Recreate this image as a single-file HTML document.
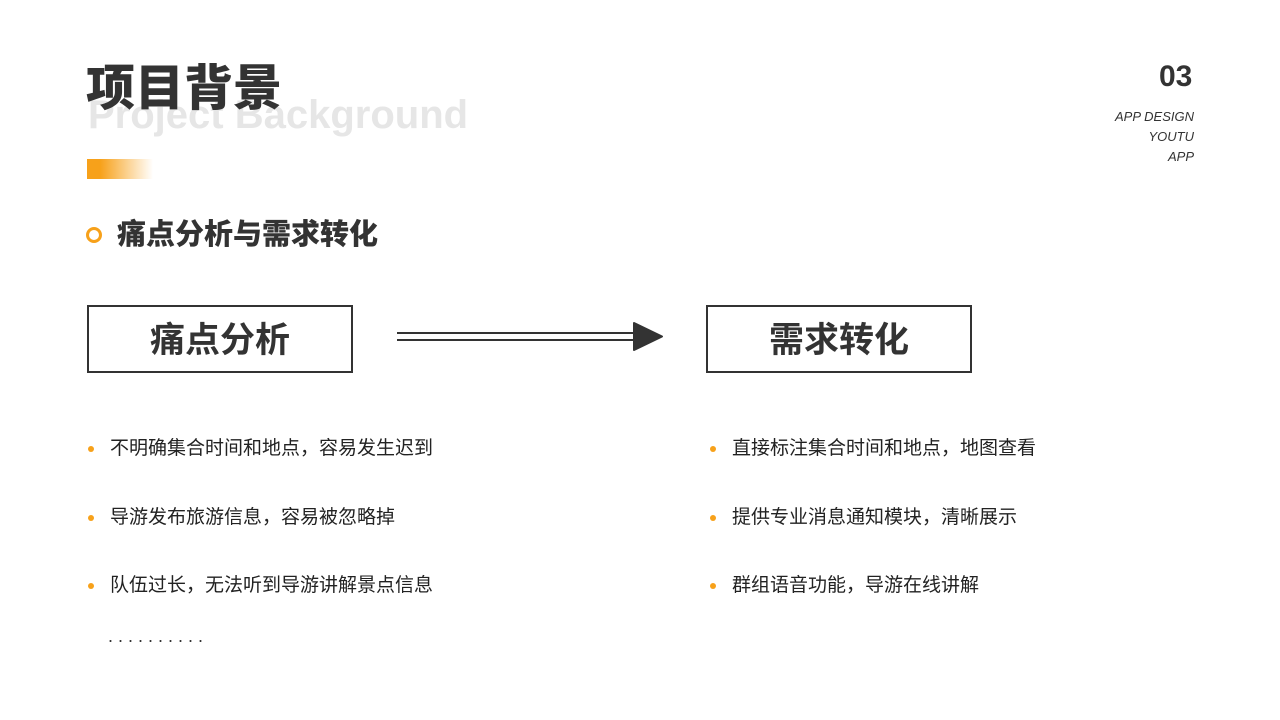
<!DOCTYPE html>
<html><head><meta charset="utf-8"><style>
body{margin:0;width:1280px;height:720px;background:#fff;position:relative;overflow:hidden;font-family:"Liberation Sans","Noto Sans CJK SC",sans-serif;color:#333}
.a{position:absolute;white-space:nowrap}
.box{position:absolute;border:2px solid #333;box-sizing:border-box;width:266px;height:68px;font-size:35px;font-weight:bold;text-align:center;line-height:68px;color:#333}
.li{position:absolute;font-size:19px;color:#222;white-space:nowrap;line-height:24px}
.li:before{content:"";position:absolute;left:-22px;top:9px;width:6px;height:6px;border-radius:50%;background:#f7a11a}
</style></head><body>
<div class="a" style="left:88px;top:87px;font-size:40px;font-weight:bold;color:#e6e6e6;line-height:56px">Project Background</div>
<div class="a" style="left:86px;top:58px;font-size:49px;font-weight:900;color:#333;line-height:62px">项目背景</div>
<div class="a" style="left:87px;top:159px;width:66px;height:20px;background:linear-gradient(90deg,#f7a11a 20%,#fff)"></div>
<div class="a" style="left:1159px;top:60px;font-size:30px;font-weight:bold;color:#333">03</div>
<div class="a" style="right:86px;top:107px;font-size:13px;font-style:italic;color:#333;text-align:right;line-height:20px">APP DESIGN<br>YOUTU<br>APP</div>
<div class="a" style="left:86px;top:227px;width:10px;height:10px;border:3px solid #f7a11a;border-radius:50%"></div>
<div class="a" style="left:117px;top:216px;font-size:29px;font-weight:900;color:#333;line-height:38px">痛点分析与需求转化</div>
<div class="box" style="left:87px;top:305px">痛点分析</div>
<div class="box" style="left:706px;top:305px">需求转化</div>
<svg class="a" style="left:390px;top:318px" width="280" height="40">
<line x1="7" y1="15" x2="248" y2="15" stroke="#333" stroke-width="2"/>
<line x1="7" y1="22" x2="248" y2="22" stroke="#333" stroke-width="2"/>
<polygon points="244,5 272,18.5 244,32" fill="#333" stroke="#333" stroke-width="2" stroke-linejoin="round"/>
</svg>
<div class="li" style="left:110px;top:437px">不明确集合时间和地点，容易发生迟到</div>
<div class="li" style="left:110px;top:506px">导游发布旅游信息，容易被忽略掉</div>
<div class="li" style="left:110px;top:574px">队伍过长，无法听到导游讲解景点信息</div>
<div class="a" style="left:108px;top:626px;font-size:18px;letter-spacing:5px">..........</div>
<div class="li" style="left:732px;top:437px">直接标注集合时间和地点，地图查看</div>
<div class="li" style="left:732px;top:506px">提供专业消息通知模块，清晰展示</div>
<div class="li" style="left:732px;top:574px">群组语音功能，导游在线讲解</div>
</body></html>
